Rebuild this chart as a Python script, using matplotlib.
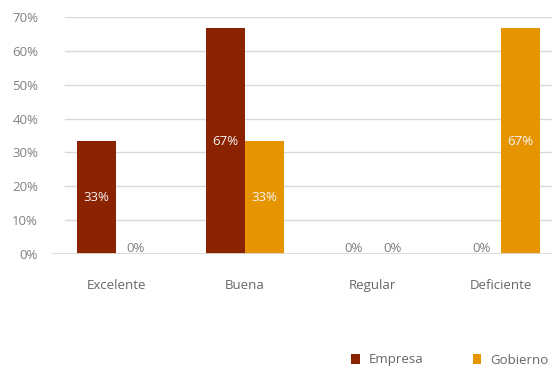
import matplotlib
matplotlib.use("Agg")
import matplotlib.pyplot as plt
import numpy as np

categories = ["Excelente", "Buena", "Regular", "Deficiente"]
empresa = [33.33, 66.67, 0.0, 0.0]
gobierno = [0.0, 33.33, 0.0, 66.67]
series_names = ["Empresa", "Gobierno"]
yticks = [0, 10, 20, 30, 40, 50, 60, 70]

c_emp = "#8B2300"
c_gob = "#E69500"
gray = "#808080"

plt.rcParams["font.family"] = ["Open Sans", "DejaVu Sans"]

fig = plt.figure(figsize=(5.52, 3.76), dpi=100)
ax = fig.add_axes([52 / 552, 1 - 254 / 376, 500 / 552, (254 - 17) / 376])

x = np.arange(len(categories))
w = 0.304
b1 = ax.bar(x - w / 2, empresa, w, color=c_emp, label=series_names[0], zorder=3)
b2 = ax.bar(x + w / 2, gobierno, w, color=c_gob, label=series_names[1], zorder=3)

ax.set_xlim(-0.501, 3.396)
ax.set_ylim(0, 70)
ax.set_yticks(yticks)
ax.set_yticklabels([f"{v}%" for v in yticks])
ax.tick_params(axis="y", length=0, pad=10, labelsize=9.5, labelcolor=gray)
ax.set_xticks(x)
ax.set_xticklabels(categories)
ax.tick_params(axis="x", length=0, pad=18, labelsize=9.5, labelcolor="#666666")

for s in ax.spines.values():
    s.set_visible(False)
for v in yticks[1:]:
    ax.axhline(v, xmin=13 / 500, xmax=1, color="#d9d9d9", lw=1, zorder=1)
ax.axhline(0, color="#d9d9d9", lw=1.3, zorder=4)

for bars, vals in ((b1, empresa), (b2, gobierno)):
    for rect, v in zip(bars, vals):
        cx = rect.get_x() + rect.get_width() / 2
        if v > 0:
            ax.text(cx, v / 2, f"{v:.0f}%", ha="center", va="center",
                    color="#f5f5f5", fontsize=9.5, zorder=5)
        else:
            ax.text(cx, -0.3, "0%", ha="center", va="bottom",
                    color=gray, fontsize=9.5, zorder=5)

fig.legend(handles=[b1, b2], labels=series_names, loc="center",
           bbox_to_anchor=(450 / 552, 1 - 360 / 376), ncol=2, frameon=False,
           fontsize=9.5, handlelength=0.65, handleheight=0.8, columnspacing=3.7,
           handletextpad=0.7, labelcolor="#666666")

fig.savefig("out.png", dpi=100)
